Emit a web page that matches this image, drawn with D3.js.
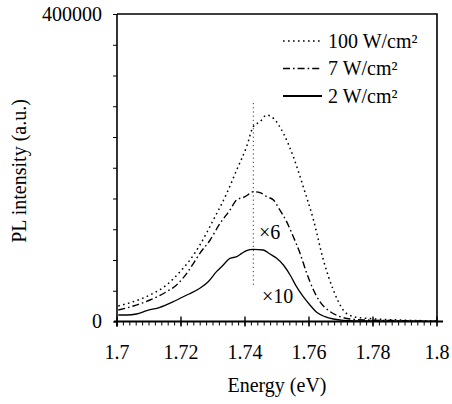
<!DOCTYPE html>
<html>
<head>
<meta charset="utf-8">
<script src="https://cdn.jsdelivr.net/npm/d3@7"></script>
<style>
  body { margin: 0; background: #fff; }
  svg text { font-family: "Liberation Serif", "DejaVu Serif", "Times New Roman", Times, serif; fill: #000; }
</style>
</head>
<body>
<div id="graph"></div>
<script>
// values (energy in eV, intensity in a.u.)
const energy100 = [1.7004, 1.7051, 1.7103, 1.7155, 1.7197, 1.7228, 1.7259, 1.7301, 1.7343, 1.7374, 1.7405, 1.7426, 1.7447, 1.7468, 1.7489, 1.7520, 1.7551, 1.7582, 1.7614, 1.7645, 1.7676, 1.7707, 1.7739, 1.7780, 1.7884, 1.7999];
const pl100 = [20160, 25800, 34470, 47480, 64820, 80000, 99510, 132030, 166720, 197070, 227420, 253440, 259940, 268620, 264280, 244770, 214410, 175390, 132030, 80000, 40975, 14960, 6290, 4120, 1950, 650];

const energy7 = [1.7004, 1.7051, 1.7103, 1.7155, 1.7186, 1.7218, 1.7239, 1.7259, 1.7291, 1.7322, 1.7353, 1.7374, 1.7400, 1.7416, 1.7426, 1.7447, 1.7468, 1.7489, 1.7509, 1.7530, 1.7551, 1.7572, 1.7593, 1.7614, 1.7634, 1.7666, 1.7697, 1.7728, 1.7780, 1.7884, 1.7999];
const pl7 = [14960, 20160, 27970, 38810, 47480, 62660, 75670, 88670, 106020, 127700, 145040, 158050, 162380, 166720, 168890, 167590, 162380, 158050, 145040, 129860, 110350, 88670, 62660, 40975, 25800, 12790, 6290, 3250, 1950, 1080, 220];

const energy2 = [1.7004, 1.7030, 1.7061, 1.7093, 1.7134, 1.7176, 1.7218, 1.7259, 1.7285, 1.7311, 1.7332, 1.7353, 1.7374, 1.7390, 1.7405, 1.7426, 1.7457, 1.7478, 1.7499, 1.7520, 1.7541, 1.7561, 1.7582, 1.7603, 1.7624, 1.7650, 1.7676, 1.7707, 1.7780, 1.7999];
const pl2 = [8460, 8460, 9760, 14090, 18430, 25800, 34470, 43150, 51810, 64820, 73500, 82170, 84330, 88670, 92140, 93880, 93010, 87800, 82170, 73500, 60490, 45310, 32300, 21460, 11930, 6290, 3250, 1520, 650, 220];

const legendLabels = ["100 W/cm²", "7 W/cm²", "2 W/cm²"];
const xTicks = [1.7, 1.72, 1.74, 1.76, 1.78, 1.8];
const yTicks = [0, 40000, 80000, 120000, 160000, 200000, 240000, 280000, 320000, 360000, 400000];
const peakEnergy = 1.7426;

const serif = "'Liberation Serif', 'DejaVu Serif', 'Times New Roman', serif";
const width = 452;
const height = 404;
const margin = {top: 14, right: 15, bottom: 82.5, left: 117};

const svg = d3.select("#graph")
    .append("svg")
    .attr("width", width)
    .attr("height", height)
    .attr("font-family", serif);

const x = d3.scaleLinear()
    .domain([1.7, 1.8])
    .range([margin.left, width - margin.right]);

const y = d3.scaleLinear()
    .domain([0, 400000])
    .range([height - margin.bottom, margin.top]);

// frame on top and right
svg.append("path")
    .attr("d", `M${x(1.7)},${y(400000)}H${x(1.8)}V${y(0)}`)
    .attr("fill", "none")
    .attr("stroke", "#000")
    .attr("stroke-width", 1.6);

// left axis, only 0 and 400000 labelled
svg.append("g")
    .attr("transform", `translate(${margin.left},0)`)
    .call(d3.axisLeft(y).tickValues(yTicks).tickSize(4).tickPadding(11)
        .tickFormat(d => (d === 0 || d === 400000) ? d : ""))
    .call(g => g.attr("font-family", serif).attr("font-size", 20))
    .call(g => g.select(".domain").attr("stroke-width", 1.6).attr("d", `M0,${y(400000)}V${y(0) + 5}`));

// bottom axis with minor ticks
const bottom = svg.append("g")
    .attr("transform", `translate(0,${y(0)})`);

bottom.append("line")
    .attr("x1", x(1.7) - 3).attr("x2", x(1.8) + 6)
    .attr("stroke", "#000").attr("stroke-width", 1.8);

bottom.selectAll(".minor")
    .data(d3.range(0, 51).map(i => 1.7 + i * 0.002))
    .join("line")
      .attr("class", "minor")
      .attr("x1", d => x(d)).attr("x2", d => x(d))
      .attr("y1", 0).attr("y2", 4)
      .attr("stroke", "#000").attr("stroke-width", 1);

bottom.selectAll(".major")
    .data(xTicks)
    .join("line")
      .attr("class", "major")
      .attr("x1", d => x(d)).attr("x2", d => x(d))
      .attr("y1", -5).attr("y2", 5)
      .attr("stroke", "#000").attr("stroke-width", 1.4);

bottom.selectAll("text")
    .data(xTicks)
    .join("text")
      .attr("x", d => x(d))
      .attr("y", 37.5)
      .attr("text-anchor", "middle")
      .attr("font-size", "20px")
      .text(d => d);

// peak marker
svg.append("line")
    .attr("x1", x(peakEnergy)).attr("x2", x(peakEnergy))
    .attr("y1", 103).attr("y2", 285)
    .attr("stroke", "#000").attr("stroke-width", 0.8)
    .attr("stroke-dasharray", "1.2,3");

const line = d3.line()
    .x(d => x(d[0]))
    .y(d => y(d[1]))
    .curve(d3.curveMonotoneX);

const series = [
    {e: energy100, v: pl100, dash: "1.6,3.4", w: 1.5},
    {e: energy7, v: pl7, dash: "7,3,1.6,3", w: 1.4},
    {e: energy2, v: pl2, dash: null, w: 1.3}
];

svg.append("g")
    .selectAll("path")
    .data(series)
    .join("path")
      .attr("d", s => line(d3.zip(s.e, s.v)))
      .attr("fill", "none")
      .attr("stroke", "#000")
      .attr("stroke-width", s => s.w)
      .attr("stroke-dasharray", s => s.dash);

// scale factor notes
svg.append("text").attr("x", 259).attr("y", 239).attr("font-size", "20px").text("×6");
svg.append("text").attr("x", 262).attr("y", 303).attr("font-size", "20px").text("×10");

// legend
const legend = svg.append("g");
legendLabels.forEach((label, i) => {
    const ly = 41 + i * 27.5;
    legend.append("line")
        .attr("x1", 283).attr("x2", 322)
        .attr("y1", ly).attr("y2", ly)
        .attr("stroke", "#000")
        .attr("stroke-width", i === 2 ? 2 : series[i].w)
        .attr("stroke-dasharray", series[i].dash);
    legend.append("text")
        .attr("x", 328).attr("y", ly + 6.5)
        .attr("font-size", "20px")
        .text(label);
});

svg.append("text")
    .attr("x", x(1.75))
    .attr("y", 392)
    .attr("text-anchor", "middle")
    .attr("font-size", "20px")
    .text("Energy (eV)");

svg.append("text")
    .attr("transform", "translate(26,171) rotate(-90)")
    .attr("text-anchor", "middle")
    .attr("font-size", "20px")
    .text("PL intensity (a.u.)");
</script>
</body>
</html>
